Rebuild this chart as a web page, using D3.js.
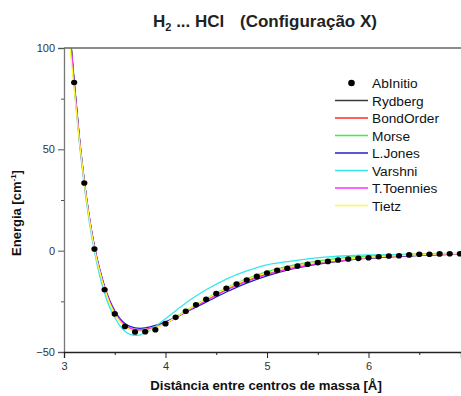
<!DOCTYPE html>
<html>
<head>
<meta charset="utf-8">
<script src="https://cdn.jsdelivr.net/npm/d3@7"></script>
<style>
  html, body { margin: 0; padding: 0; background: #fff; }
  svg { display: block; font-family: "Liberation Sans", Arial, sans-serif; }
</style>
</head>
<body>
<svg id="chart" width="461" height="396"></svg>
<script>
// ---------- data ----------
const abX = [3.1,3.2,3.3,3.4,3.5,3.6,3.7,3.8,3.9,4.0,4.1,4.2,4.3,4.4,4.5,4.6,4.7,4.8,4.9,5.0,
             5.1,5.2,5.3,5.4,5.5,5.6,5.7,5.8,5.9,6.0,6.1,6.2,6.3,6.4,6.5,6.6,6.7,6.8,6.9];
const abY = [83,33.4,0.8,-19.3,-31.2,-37.4,-40.1,-40.0,-39.0,-36.0,-32.9,-29.9,-26.7,-24.0,-21.2,-18.6,-16.5,-14.5,-12.7,-11.0,
             -9.7,-8.7,-7.6,-6.7,-5.9,-5.3,-4.6,-4.1,-3.8,-3.5,-3.0,-2.6,-2.5,-2.1,-1.8,-1.8,-1.6,-1.5,-1.5];

const fitX = [3.06,3.1,3.15,3.2,3.25,3.3,3.35,3.4,3.45,3.5,3.55,3.6,3.65,3.7,3.75,3.8,3.85,3.9,
              4.0,4.1,4.2,4.3,4.4,4.6,4.8,5.0,5.2,5.4,5.6,5.8,6.0,6.2,6.4,6.6,6.8,6.92];

const rydberg   = [107,83,56,34,16,1.5,-9.5,-18.4,-25.4,-30.6,-34.4,-36.9,-38.4,-39.1,-39.3,-39.1,-38.6,-37.9,
                   -35.8,-33.0,-30.0,-27.1,-24.3,-19.0,-14.7,-11.3,-8.8,-6.9,-5.5,-4.4,-3.6,-3.0,-2.5,-2.1,-1.8,-1.7];
const bondOrder = [106,82.5,55.5,33.6,15.7,1.3,-9.6,-18.4,-25.3,-30.5,-34.3,-36.8,-38.3,-39.0,-39.2,-39.0,-38.5,-37.8,
                   -35.7,-32.9,-29.9,-26.9,-24.1,-18.8,-14.5,-11.1,-8.6,-6.7,-5.3,-4.2,-3.4,-2.8,-2.3,-1.9,-1.6,-1.5];
const morse     = [108,84,56.5,34.2,16.0,1.2,-9.9,-18.8,-25.8,-31.0,-34.8,-37.3,-38.8,-39.5,-39.6,-39.3,-38.7,-37.9,
                   -35.7,-32.8,-29.7,-26.7,-23.8,-18.4,-13.9,-10.3,-7.7,-5.8,-4.4,-3.3,-2.6,-2.1,-1.8,-1.5,-1.35,-1.3];
const lJones    = [107,83.5,56.5,34.5,16.5,2.2,-8.8,-17.6,-24.5,-29.7,-33.4,-35.9,-37.4,-38.1,-38.3,-38.1,-37.6,-36.9,
                   -35.1,-32.9,-30.4,-27.9,-25.4,-20.4,-16.0,-12.4,-9.6,-7.5,-5.9,-4.6,-3.7,-3.0,-2.5,-2.1,-1.8,-1.65];
const varshni   = [104,81,54,32,14,-0.5,-12,-21,-28,-33,-37,-39.8,-41.3,-41.8,-41.5,-40.5,-39.1,-37.4,
                   -33.6,-29.6,-25.8,-22.4,-19.3,-14.0,-10.0,-7.0,-5.4,-4.0,-3.1,-2.5,-2.1,-2.0,-1.8,-1.7,-1.6,-1.55];
const tToennies = [106.5,83,56,34,16,1.6,-9.3,-18.2,-25.2,-30.4,-34.2,-36.8,-38.3,-39.0,-39.2,-39.0,-38.6,-37.9,
                   -35.9,-33.2,-30.3,-27.4,-24.7,-19.5,-15.2,-11.8,-9.2,-7.2,-5.7,-4.5,-3.6,-2.9,-2.4,-2.0,-1.7,-1.6];
const tietz     = [100,80,55,33.5,15.5,1.0,-10.0,-18.9,-25.9,-31.1,-34.9,-37.4,-38.9,-39.6,-39.8,-39.5,-38.9,-38.1,
                   -35.9,-32.9,-29.8,-26.8,-23.9,-18.6,-14.3,-11.0,-8.5,-6.6,-5.2,-4.1,-3.3,-2.7,-2.2,-1.8,-1.5,-1.4];

const seriesNames  = ["Rydberg","BondOrder","Morse","L.Jones","Varshni","T.Toennies","Tietz"];
const seriesValues = [rydberg, bondOrder, morse, lJones, varshni, tToennies, tietz];
const seriesColors = ["#3a3a3a","#ff2a2a","#3ef03e","#2020c8","#35e6ee","#ff30ff","#ffff30"];

const xTicks = [3,4,5,6];
const xMinorTicks = [3.5,4.5,5.5,6.5];
const yTicks = [-50,0,50,100];
const yMinorTicks = [-25,25,75];

// ---------- layout ----------
const svg = d3.select("#chart");
const L = 64, R = 461, T = 48, B = 352;
const x = d3.scaleLinear().domain([3, 6.911]).range([L, R]);
const y = d3.scaleLinear().domain([-50, 100]).range([B, T]);

svg.append("defs").append("clipPath").attr("id","clip")
   .append("rect").attr("x",L).attr("y",T).attr("width",R-L).attr("height",B-T);

// curves
const line = d3.line().curve(d3.curveMonotoneX);
const g = svg.append("g").attr("clip-path","url(#clip)");
seriesValues.forEach((vals,i) => {
  g.append("path")
    .attr("d", line(fitX.map((xv,j) => [x(xv), y(vals[j])])))
    .attr("fill","none")
    .attr("stroke", seriesColors[i])
    .attr("stroke-width", 1.3);
});

// points
svg.append("g").selectAll("ellipse").data(abX).join("ellipse")
  .attr("cx",(d)=>x(d)).attr("cy",(d,i)=>y(abY[i]))
  .attr("rx",3.1).attr("ry",2.8).attr("fill","#000");

// axes
const yAxis = svg.append("g").attr("transform",`translate(${L},0)`)
  .call(d3.axisLeft(y).tickValues(yTicks).tickSize(6).tickPadding(3).tickFormat(d3.format("d")));
yAxis.select(".domain").attr("stroke","#777").attr("stroke-width",1.3);
yAxis.selectAll(".tick line").attr("stroke","#555");
yAxis.selectAll(".tick text").attr("font-size",11).attr("fill","#333")
   .attr("font-family","Liberation Sans, Arial, sans-serif");
svg.append("g").attr("transform",`translate(${L},0)`)
  .call(d3.axisLeft(y).tickValues(yMinorTicks).tickSize(3).tickFormat(""))
  .call(s=>{s.select(".domain").remove(); s.selectAll(".tick line").attr("stroke","#555");});

const xAxis = svg.append("g").attr("transform",`translate(0,${B})`)
  .call(d3.axisBottom(x).tickValues(xTicks).tickSize(6).tickPadding(4).tickFormat(d3.format("d")));
xAxis.select(".domain").attr("stroke","#222").attr("stroke-width",1.3);
xAxis.selectAll(".tick line").attr("stroke","#222");
xAxis.selectAll(".tick text").attr("font-size",11).attr("fill","#333")
   .attr("font-family","Liberation Sans, Arial, sans-serif");
svg.append("g").attr("transform",`translate(0,${B})`)
  .call(d3.axisBottom(x).tickValues(xMinorTicks).tickSize(3).tickFormat(""))
  .call(s=>{s.select(".domain").remove(); s.selectAll(".tick line").attr("stroke","#222");});

// top frame
svg.append("line").attr("x1",L).attr("x2",R).attr("y1",T).attr("y2",T)
  .attr("stroke","#666").attr("stroke-width",1.3);

// title
const title = svg.append("text").attr("x",153).attr("y",27)
  .attr("font-size",17).attr("font-weight","bold").attr("fill","#222");
title.append("tspan").text("H");
title.append("tspan").attr("font-size",11).attr("dy",4).text("2");
title.append("tspan").attr("dy",-4).text(" ... HCl");
svg.append("text").attr("x",240).attr("y",27)
  .attr("font-size",17).attr("font-weight","bold").attr("fill","#222")
  .text("(Configuração X)");

// axis labels
svg.append("text").attr("x",266).attr("y",390).attr("text-anchor","middle")
  .attr("font-size",13.2).attr("font-weight","bold").attr("fill","#111")
  .text("Distância entre centros de massa [Å]");
const yl = svg.append("text").attr("transform","translate(21,213) rotate(-90)")
  .attr("text-anchor","middle").attr("font-size",13).attr("font-weight","bold").attr("fill","#111");
yl.append("tspan").text("Energia [cm");
yl.append("tspan").attr("font-size",8).attr("dy",-5).text("-1");
yl.append("tspan").attr("dy",5).text("]");

// legend
const legend = svg.append("g");
const legY0 = 88, legDy = 17.5;
legend.append("circle").attr("cx",351.5).attr("cy",legY0-5).attr("r",3.3).attr("fill","#000");
legend.append("text").attr("x",372).attr("y",legY0).attr("font-size",13.7).attr("fill","#111").text("AbInitio");
seriesNames.forEach((n,i)=>{
  const yy = legY0 + legDy*(i+1);
  legend.append("line").attr("x1",335).attr("x2",368).attr("y1",yy-5).attr("y2",yy-5)
    .attr("stroke",seriesColors[i]).attr("stroke-width",1.5);
  legend.append("text").attr("x",372).attr("y",yy).attr("font-size",13.7).attr("fill","#111").text(n);
});
</script>
</body>
</html>
